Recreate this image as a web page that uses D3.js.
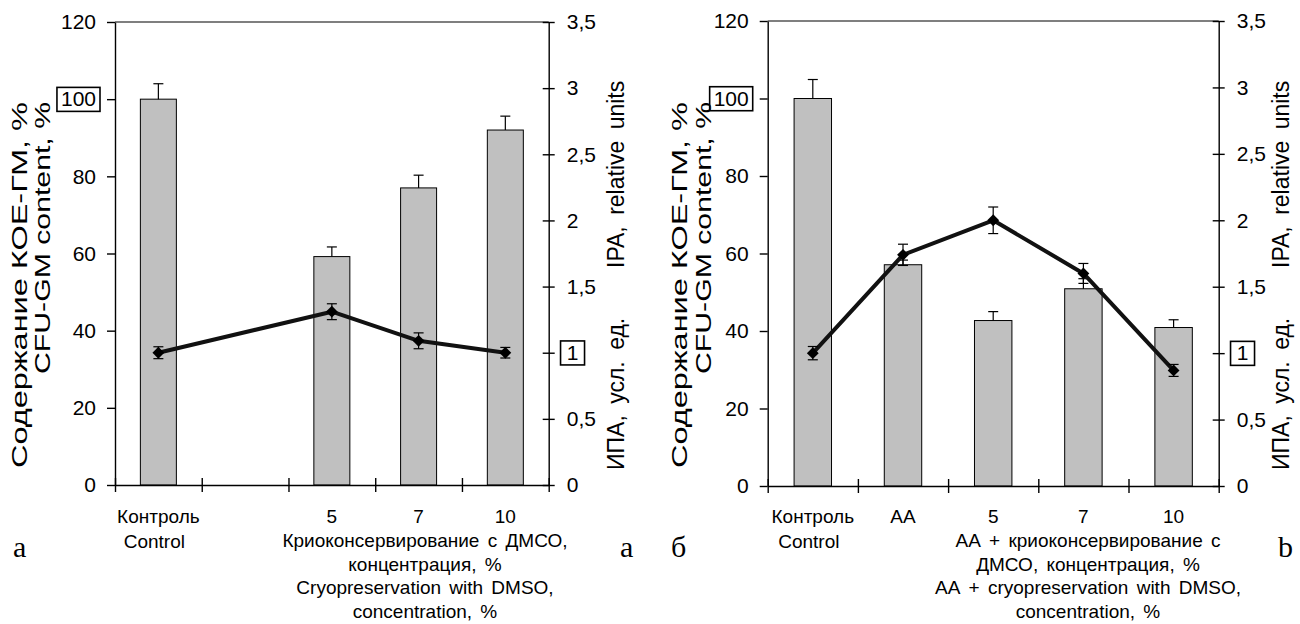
<!DOCTYPE html>
<html>
<head>
<meta charset="utf-8">
<script src="https://cdn.jsdelivr.net/npm/d3@7"></script>
<style>
    body { margin: 0; background: #fff; }
    svg text { font-family: "Liberation Sans", Arial, sans-serif; fill: #000; }
    .panel-letter { font-family: "Liberation Serif", "Times New Roman", serif; }
</style>
</head>
<body>
<svg id="chart" width="1300" height="624"></svg>
<script>

// ---- data ----
var categoriesA = ["Контроль", "", "5", "7", "10"];
var subLabelsA = ["Control", "", "", "", ""];
var cfuA = [100, null, 59.2, 77, 92];
var cfuErrA = [4, null, 2.5, 3.3, 3.6];
var ipaA = [1.0, null, 1.31, 1.09, 1.0];
var ipaErrA = [0.045, null, 0.06, 0.06, 0.04];
var xTitleA = ["Криоконсервирование с ДМСО,", "концентрация, %",
               "Cryopreservation with DMSO,", "concentration, %"];

var categoriesB = ["Контроль", "АА", "5", "7", "10"];
var subLabelsB = ["Control", "", "", "", ""];
var cfuB = [100, 57.1, 42.7, 50.9, 40.9];
var cfuErrB = [4.9, 1.2, 2.3, 2.6, 2];
var ipaB = [1.0, 1.74, 2.0, 1.6, 0.87];
var ipaErrB = [0.05, 0.08, 0.1, 0.075, 0.045];
var xTitleB = ["АА + криоконсервирование с", "ДМСО, концентрация, %",
               "АА + cryopreservation with DMSO,", "concentration, %"];

var cfuTicks = [0, 20, 40, 60, 80, 100, 120];
var ipaTicks = [0, 0.5, 1, 1.5, 2, 2.5, 3, 3.5];
var leftTitle = ["Содержание КОЕ-ГМ,  %", "CFU-GM content, %"];
var rightTitle = ["ИПА, усл. ед.", "IPA, relative units"];


/*
 * DualAxisChart - bars (CFU-GM, left axis) + line (IPA, right axis)
 */
DualAxisChart = function(_svg, _data, _layout){
    this.svg = _svg;
    this.data = _data;
    this.layout = _layout;

    this.initVis();
}

DualAxisChart.prototype.initVis = function(){
    var vis = this;
    var L = vis.layout;
    var n = vis.data.categories.length;

    vis.g = vis.svg.append("g");

    // band padding chosen so band edges sit on the category ticks
    vis.x = d3.scaleBand()
        .domain(d3.range(n))
        .range([L.left, L.right])
        .paddingInner(0.585)
        .paddingOuter(0.2925);

    vis.xEdge = d3.scaleLinear().domain([0, n]).range([L.left, L.right]);
    vis.yBar = d3.scaleLinear().domain([0, 120]).range([L.bottom, L.top]);
    vis.yIpa = d3.scaleLinear().domain([0, 3.5]).range([L.bottom, L.top]);

    // top frame line
    vis.g.append("line")
        .attr("x1", L.left).attr("x2", L.right)
        .attr("y1", L.top).attr("y2", L.top)
        .attr("stroke", "#000").attr("stroke-width", 1.2);

    vis.updateVis();
    vis.drawAxes();
    vis.drawLabels();
}

DualAxisChart.prototype.updateVis = function(){
    var vis = this;
    var d = vis.data;
    var L = vis.layout;

    var rows = d.categories.map(function(c, i){
        return { i: i, cfu: d.cfu[i], cfuErr: d.cfuErr[i], ipa: d.ipa[i], ipaErr: d.ipaErr[i] };
    });
    var barRows = rows.filter(function(r){ return r.cfu != null; });
    var ipaRows = rows.filter(function(r){ return r.ipa != null; });
    var cx = function(r){ return vis.x(r.i) + vis.x.bandwidth() / 2; };

    // bars
    vis.g.selectAll(".bar")
        .data(barRows)
        .enter()
        .append("rect")
        .attr("class", "bar")
        .attr("x", function(r){ return vis.x(r.i); })
        .attr("y", function(r){ return vis.yBar(r.cfu); })
        .attr("width", vis.x.bandwidth())
        .attr("height", function(r){ return L.bottom - vis.yBar(r.cfu); })
        .attr("fill", "#c0c0c0")
        .attr("stroke", "#000")
        .attr("stroke-width", 1);

    // bar error bars (upper only)
    var be = vis.g.selectAll(".bar-err")
        .data(barRows)
        .enter()
        .append("g")
        .attr("class", "bar-err")
        .attr("stroke", "#000")
        .attr("stroke-width", 1.2);
    be.append("line")
        .attr("x1", cx).attr("x2", cx)
        .attr("y1", function(r){ return vis.yBar(r.cfu); })
        .attr("y2", function(r){ return vis.yBar(r.cfu + r.cfuErr); });
    be.append("line")
        .attr("x1", function(r){ return cx(r) - 5; })
        .attr("x2", function(r){ return cx(r) + 5; })
        .attr("y1", function(r){ return vis.yBar(r.cfu + r.cfuErr); })
        .attr("y2", function(r){ return vis.yBar(r.cfu + r.cfuErr); });

    // IPA line
    var line = d3.line()
        .x(cx)
        .y(function(r){ return vis.yIpa(r.ipa); });

    vis.g.append("path")
        .datum(ipaRows)
        .attr("d", line)
        .attr("fill", "none")
        .attr("stroke", "#111")
        .attr("stroke-width", 4)
        .attr("stroke-linejoin", "round");

    // IPA error bars (both sides)
    var le = vis.g.selectAll(".ipa-err")
        .data(ipaRows)
        .enter()
        .append("g")
        .attr("class", "ipa-err")
        .attr("stroke", "#000")
        .attr("stroke-width", 1.2);
    le.append("line")
        .attr("x1", cx).attr("x2", cx)
        .attr("y1", function(r){ return vis.yIpa(r.ipa - r.ipaErr); })
        .attr("y2", function(r){ return vis.yIpa(r.ipa + r.ipaErr); });
    [-1, 1].forEach(function(s){
        le.append("line")
            .attr("x1", function(r){ return cx(r) - 5; })
            .attr("x2", function(r){ return cx(r) + 5; })
            .attr("y1", function(r){ return vis.yIpa(r.ipa + s * r.ipaErr); })
            .attr("y2", function(r){ return vis.yIpa(r.ipa + s * r.ipaErr); });
    });

    // diamond markers
    vis.g.selectAll(".marker")
        .data(ipaRows)
        .enter()
        .append("path")
        .attr("class", "marker")
        .attr("d", d3.symbol(d3.symbolSquare, 70))
        .attr("transform", function(r){
            return "translate(" + cx(r) + "," + vis.yIpa(r.ipa) + ") rotate(45)";
        })
        .attr("fill", "#000");
}

DualAxisChart.prototype.drawAxes = function(){
    var vis = this;
    var L = vis.layout;
    var n = vis.data.categories.length;
    var comma = function(v){ return String(v).replace(".", ","); };

    // left axis
    vis.yAxisLeft = d3.axisLeft(vis.yBar)
        .tickValues(cfuTicks)
        .tickSize(8)
        .tickSizeOuter(0)
        .tickPadding(11);
    vis.leftGroup = vis.g.append("g")
        .attr("class", "y-axis axis")
        .attr("transform", "translate(" + L.left + ",0)")
        .call(vis.yAxisLeft);

    // right axis, ticks cross the line
    vis.yAxisRight = d3.axisRight(vis.yIpa)
        .tickValues(ipaTicks)
        .tickSize(6)
        .tickSizeOuter(0)
        .tickPadding(12)
        .tickFormat(comma);
    vis.rightGroup = vis.g.append("g")
        .attr("class", "y2-axis axis")
        .attr("transform", "translate(" + L.right + ",0)")
        .call(vis.yAxisRight);
    vis.rightGroup.selectAll(".tick line").attr("x1", -6);

    // bottom axis, ticks at category boundaries
    vis.xAxis = d3.axisBottom(vis.xEdge)
        .tickValues(d3.range(n + 1))
        .tickSize(7)
        .tickSizeOuter(0)
        .tickFormat("");
    vis.bottomGroup = vis.g.append("g")
        .attr("class", "x-axis axis")
        .attr("transform", "translate(0," + L.bottom + ")")
        .call(vis.xAxis);
    vis.bottomGroup.selectAll(".tick line").attr("y1", -7);

    vis.g.selectAll(".axis path, .axis line")
        .attr("stroke", "#000")
        .attr("stroke-width", 1.4);
    vis.g.selectAll(".axis text")
        .attr("font-size", 21)
        .attr("font-family", "Liberation Sans, Arial, sans-serif")
        .attr("fill", "#000");

    // boxed reference values
    var box = function(group, value){
        group.selectAll(".tick")
            .filter(function(d){ return d === value; })
            .each(function(){
                var t = d3.select(this).select("text");
                var b = t.node().getBBox();
                var w = Math.max(b.width + 8, 24);
                d3.select(this).insert("rect", "text")
                    .attr("x", b.x + b.width / 2 - w / 2).attr("y", b.y)
                    .attr("width", w).attr("height", b.height + 1)
                    .attr("fill", "#fff")
                    .attr("stroke", "#000")
                    .attr("stroke-width", 1.6);
            });
    };
    box(vis.leftGroup, 100);
    box(vis.rightGroup, 1);
}

DualAxisChart.prototype.drawLabels = function(){
    var vis = this;
    var d = vis.data;
    var L = vis.layout;

    // category labels
    d.categories.forEach(function(c, i){
        var cx = vis.x(i) + vis.x.bandwidth() / 2;
        vis.g.append("text")
            .attr("x", cx).attr("y", 523)
            .attr("text-anchor", "middle")
            .attr("font-size", 19)
            .text(c);
        if (d.subLabels[i]) {
            vis.g.append("text")
                .attr("x", cx - 4).attr("y", 548)
                .attr("text-anchor", "middle")
                .attr("font-size", 19)
                .text(d.subLabels[i]);
        }
    });

    // x title, four lines
    d.xTitle.forEach(function(s, k){
        vis.g.append("text")
            .attr("x", L.xTitleX).attr("y", 547 + k * 23.5)
            .attr("text-anchor", "middle")
            .attr("font-size", 19)
            .attr("word-spacing", 3)
            .text(s);
    });

    // left title, two lines; the original is stretched along the axis
    leftTitle.forEach(function(s, k){
        vis.g.append("text")
            .attr("transform", "translate(" + L.leftTitleX[k] + "," + [285, 238][k] + ") rotate(-90)")
            .attr("text-anchor", "middle")
            .attr("font-size", 22)
            .attr("textLength", [366, 272][k])
            .attr("lengthAdjust", "spacingAndGlyphs")
            .text(s);
    });

    // right title, one rotated line in two pieces
    rightTitle.forEach(function(s, k){
        vis.g.append("text")
            .attr("transform", "translate(" + L.rightTitleX + "," + [470, 268][k] + ") rotate(-90)")
            .attr("font-size", 23)
            .attr("word-spacing", 5)
            .text(s);
    });

    // panel letters
    L.letters.forEach(function(p){
        vis.g.append("text")
            .attr("class", "panel-letter")
            .attr("x", p.x).attr("y", p.y)
            .attr("font-size", 30)
            .text(p.t);
    });
}


var svg = d3.select("#chart");

var chartA = new DualAxisChart(svg, {
    categories: categoriesA, subLabels: subLabelsA,
    cfu: cfuA, cfuErr: cfuErrA, ipa: ipaA, ipaErr: ipaErrA, xTitle: xTitleA
}, {
    left: 115, right: 548.7, top: 22, bottom: 485,
    xTitleX: 425, leftTitleX: [27, 50], rightTitleX: 624,
    letters: [{ t: "а", x: 13, y: 557 }, { t: "а", x: 620, y: 557 }]
});

var chartB = new DualAxisChart(svg, {
    categories: categoriesB, subLabels: subLabelsB,
    cfu: cfuB, cfuErr: cfuErrB, ipa: ipaB, ipaErr: ipaErrB, xTitle: xTitleB
}, {
    left: 767.7, right: 1218.7, top: 21, bottom: 486,
    xTitleX: 1088, leftTitleX: [687, 711], rightTitleX: 1289,
    letters: [{ t: "б", x: 671, y: 557 }, { t: "b", x: 1278, y: 557 }]
});

</script>
</body>
</html>
